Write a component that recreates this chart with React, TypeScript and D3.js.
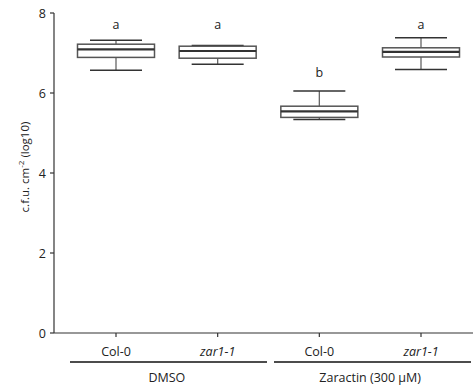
import React from "react";
import * as d3 from "d3";

const categories = ["Col-0", "zar1-1", "Col-0", "zar1-1"];
const italicCats = [false, true, false, true];
const groups = ["DMSO", "Zaractin (300 \u00b5M)"];
const groupOf = [0, 0, 1, 1];
const whiskerLow = [6.57, 6.72, 5.34, 6.59];
const q1 = [6.89, 6.87, 5.39, 6.9];
const median = [7.09, 7.05, 5.54, 7.03];
const q3 = [7.22, 7.17, 5.67, 7.13];
const whiskerHigh = [7.32, 7.19, 6.05, 7.38];
const letters = ["a", "a", "b", "a"];
const letterValue = [7.72, 7.72, 6.5, 7.72];
const yTicks = [0, 2, 4, 6, 8];

export default function App() {
  const W = 474, H = 390;
  const axisX = 54;
  const y = d3.scaleLinear().domain([0, 8]).range([333, 13]);
  const x = d3.scalePoint<number>().domain([0, 1, 2, 3]).range([116, 421]);
  const boxW = 77, capW = 52;
  const font = "'Open Sans', 'Liberation Sans', sans-serif";
  const txt = "#222";
  const groupSpans = [[70, 267], [274, 471]];

  return (
    <svg width={W} height={H} style={{ position: "absolute", left: 0, top: 0 }} fontFamily={font}>
      <rect width={W} height={H} fill="#fff" />
      {/* y axis */}
      <line x1={axisX} x2={axisX} y1={y(8)} y2={y(0)} stroke="#333" strokeWidth={1.2} />
      {yTicks.map((t) => (
        <g key={t}>
          <line x1={axisX - 4} x2={axisX} y1={y(t)} y2={y(t)} stroke="#333" strokeWidth={1.2} />
          <text x={axisX - 8} y={y(t)} dy="0.36em" textAnchor="end" fontSize={12.5} fill={txt}>{t}</text>
        </g>
      ))}
      <text transform={`translate(29,${167}) rotate(-90)`} textAnchor="middle" fontSize={11.5} fill={txt}>
        c.f.u. cm<tspan dy={-5} fontSize={8}>-2</tspan><tspan dy={5}> (log10)</tspan>
      </text>
      {/* x axis */}
      <line x1={axisX} x2={473} y1={y(0)} y2={y(0)} stroke="#333" strokeWidth={1.2} />
      {categories.map((c, i) => (
        <g key={i}>
          <line x1={x(i)} x2={x(i)} y1={y(0)} y2={y(0) + 4} stroke="#333" strokeWidth={1.2} />
          <text x={x(i)} y={356} textAnchor="middle" fontSize={12.5} fill={txt} fontStyle={italicCats[i] ? "italic" : "normal"}>{c}</text>
        </g>
      ))}
      {groups.map((g, gi) => {
        const idx = groupOf.map((v, i) => (v === gi ? i : -1)).filter((i) => i >= 0);
        const cx = (x(idx[0])! + x(idx[idx.length - 1])!) / 2;
        return (
          <g key={g}>
            <line x1={groupSpans[gi][0]} x2={groupSpans[gi][1]} y1={362} y2={362} stroke="#111" strokeWidth={1.5} />
            <text x={cx} y={382} textAnchor="middle" fontSize={12.5} fill={txt}>{g}</text>
          </g>
        );
      })}
      {/* boxes */}
      {categories.map((c, i) => {
        const cx = x(i)!;
        return (
          <g key={"b" + i}>
            <line x1={cx} x2={cx} y1={y(whiskerHigh[i])} y2={y(q3[i])} stroke="#666" strokeWidth={1.3} />
            <line x1={cx} x2={cx} y1={y(q1[i])} y2={y(whiskerLow[i])} stroke="#666" strokeWidth={1.3} />
            <line x1={cx - capW / 2} x2={cx + capW / 2} y1={y(whiskerHigh[i])} y2={y(whiskerHigh[i])} stroke="#333" strokeWidth={1.5} />
            <line x1={cx - capW / 2} x2={cx + capW / 2} y1={y(whiskerLow[i])} y2={y(whiskerLow[i])} stroke="#333" strokeWidth={1.5} />
            <rect x={cx - boxW / 2} y={y(q3[i])} width={boxW} height={y(q1[i]) - y(q3[i])} fill="#fff" stroke="#555" strokeWidth={1.5} />
            <line x1={cx - boxW / 2} x2={cx + boxW / 2} y1={y(median[i])} y2={y(median[i])} stroke="#333" strokeWidth={2.2} />
            <text x={cx} y={y(letterValue[i])} dy="0.35em" textAnchor="middle" fontSize={12.5} fill={txt}>{letters[i]}</text>
          </g>
        );
      })}
    </svg>
  );
}
